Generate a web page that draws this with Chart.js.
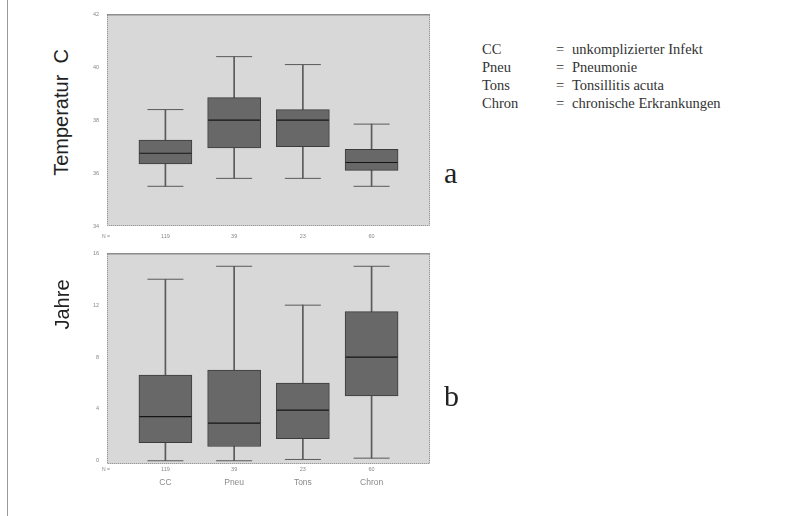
<!DOCTYPE html>
<html>
<head>
<meta charset="utf-8">
<script src="https://cdn.jsdelivr.net/npm/chart.js@4/dist/chart.umd.min.js"></script>
<style>
  body { margin: 0; width: 794px; height: 516px; background: #fff; position: relative; overflow: hidden; font-family: "Liberation Sans", Arial, sans-serif; }
  .frame { position: absolute; left: 7px; top: 0; width: 1px; height: 516px; background: #9a9a9a; }
  canvas { position: absolute; }
  #tempChart { left: 75px; top: 3px; }
  #ageChart { left: 75px; top: 242px; }
  .ytitle { position: absolute; font-size: 20px; color: #222; transform: rotate(-90deg); transform-origin: center; white-space: nowrap; }
  .letter { position: absolute; font-family: "Liberation Serif", "Times New Roman", serif; font-size: 30px; color: #222; }
  .nlab { position: absolute; font-size: 5px; color: #888; }
  .legend { position: absolute; left: 482px; top: 40px; font-family: "Liberation Serif", "Times New Roman", serif; font-size: 14.5px; color: #333; line-height: 18px; }
  .legend div { position: relative; height: 18px; white-space: nowrap; }
  .legend span { position: absolute; top: 0; white-space: nowrap; }
</style>
</head>
<body>
<div class="frame"></div>
<canvas id="tempChart" width="360" height="245"></canvas>
<canvas id="ageChart" width="360" height="255"></canvas>

<div class="ytitle" style="left:-4px; top:101px; width:130px; text-align:center;">Temperatur&nbsp; C</div>
<div class="ytitle" style="left:27px; top:293px; width:70px; text-align:center;">Jahre</div>
<div class="letter" style="left:444px; top:156px;">a</div>
<div class="letter" style="left:444px; top:379px;">b</div>
<div class="nlab" style="left:102px; top:233px;">N =</div>
<div class="nlab" style="left:102px; top:466px;">N =</div>

<div class="legend" id="legend"></div>

<script>
// categories and group sizes
const categories = ["CC", "Pneu", "Tons", "Chron"];
const descriptions = ["unkomplizierter Infekt", "Pneumonie", "Tonsillitis acuta", "chronische Erkrankungen"];
const groupN = ["119", "39", "23", "60"];

// a: Temperatur C  (min, q1, median, q3, max)
const tempMin = [35.5, 35.8, 35.8, 35.5];
const tempQ1 = [36.35, 36.95, 37.0, 36.1];
const tempMedian = [36.75, 38.0, 38.0, 36.4];
const tempQ3 = [37.25, 38.85, 38.4, 36.9];
const tempMax = [38.4, 40.4, 40.1, 37.85];
const tempTicks = [34, 36, 38, 40, 42];

// b: Jahre
const ageMin = [0, 0, 0.1, 0.2];
const ageQ1 = [1.4, 1.1, 1.7, 5.0];
const ageMedian = [3.4, 2.9, 3.9, 8.0];
const ageQ3 = [6.6, 7.0, 6.0, 11.5];
const ageMax = [14, 15, 12, 15];
const ageTicks = [0, 4, 8, 12, 16];

// legend text
const legend = document.getElementById("legend");
categories.forEach((c, i) => {
    const row = document.createElement("div");
    row.innerHTML = '<span style="left:0">' + c + '</span><span style="left:74px">=</span><span style="left:90px">' + descriptions[i] + '</span>';
    legend.appendChild(row);
});

// plot background and border
const plotBg = {
    id: "plotBg",
    beforeDraw(chart) {
        const a = chart.chartArea, ctx = chart.ctx;
        ctx.save();
        ctx.fillStyle = "#d8d8d8";
        ctx.fillRect(a.left, a.top, a.right - a.left, a.bottom - a.top);
        ctx.strokeStyle = "#8a8a8a";
        ctx.lineWidth = 1;
        ctx.setLineDash([1, 1]);
        ctx.strokeRect(a.left + 0.5, a.top + 0.5, a.right - a.left - 1, a.bottom - a.top - 1);
        ctx.setLineDash([]);
        ctx.strokeStyle = "#777";
        ctx.beginPath();
        ctx.moveTo(a.left, a.top + 0.5);
        ctx.lineTo(a.right, a.top + 0.5);
        ctx.stroke();
        ctx.restore();
    }
};

function fixedTicks(values) {
    return function (scale) { scale.ticks = values.map(v => ({ value: v })); };
}

function boxChart(id, mins, q1, med, q3, maxs, yMin, yMax, yTicks, withNames) {
    const pos = categories.map((c, i) => i + 1);
    const scales = {
        x: {
            type: "linear", min: 0.15, max: 4.85, offset: false,
            grid: { display: false, drawTicks: false }, border: { display: false },
            afterBuildTicks: fixedTicks(pos),
            afterFit: s => { s.height = withNames ? 11 : 16; },
            ticks: { font: { size: 5.5, family: "Liberation Sans" }, color: "#888", padding: withNames ? 2 : 7,
                     maxRotation: 0, autoSkip: false, callback: v => groupN[v - 1] }
        },
        y: {
            min: yMin, max: yMax,
            grid: { display: false, drawTicks: false }, border: { display: false },
            afterBuildTicks: fixedTicks(yTicks),
            afterFit: s => { s.width = 32; },
            ticks: { font: { size: 5.5, family: "Liberation Sans" }, color: "#888", padding: 8 }
        }
    };
    if (withNames) {
        scales.x2 = {
            type: "linear", position: "bottom", min: 0.15, max: 4.85, offset: false,
            grid: { display: false, drawTicks: false }, border: { display: false },
            afterBuildTicks: fixedTicks(pos),
            afterFit: s => { s.height = 16; },
            ticks: { font: { size: 8.5, family: "Liberation Sans" }, color: "#8a8a8a", padding: 3,
                     maxRotation: 0, autoSkip: false, callback: v => categories[v - 1] }
        };
    }
    return new Chart(document.getElementById(id), {
        type: "bar",
        data: {
            datasets: [
                {   // whisker line
                    data: pos.map((x, i) => ({ x: x, y: [mins[i], maxs[i]] })),
                    backgroundColor: "#5a5a5a", barThickness: 1, grouped: false, order: 3
                },
                {   // box
                    data: pos.map((x, i) => ({ x: x, y: [q1[i], q3[i]] })),
                    backgroundColor: "#686868", borderColor: "#3c3c3c", borderWidth: 1,
                    borderSkipped: false, barThickness: 53, grouped: false, order: 2
                },
                {   // median
                    type: "scatter",
                    data: pos.map((x, i) => ({ x: x, y: med[i] })),
                    pointStyle: "line", radius: 26, borderColor: "#151515", borderWidth: 1.2, order: 1
                },
                {   // caps
                    type: "scatter",
                    data: pos.map((x, i) => ({ x: x, y: maxs[i] })).concat(pos.map((x, i) => ({ x: x, y: mins[i] }))),
                    pointStyle: "line", radius: 18, borderColor: "#5a5a5a", borderWidth: 1, order: 1
                }
            ]
        },
        options: {
            responsive: false, animation: false,
            layout: { autoPadding: false, padding: { top: 7, right: 5, bottom: 6, left: 0 } },
            plugins: { legend: { display: false }, tooltip: { enabled: false } },
            scales: scales
        },
        plugins: [plotBg]
    });
}

boxChart("tempChart", tempMin, tempQ1, tempMedian, tempQ3, tempMax, 34, 42, tempTicks, false);
boxChart("ageChart", ageMin, ageQ1, ageMedian, ageQ3, ageMax, -0.25, 16, ageTicks, true);
</script>
</body>
</html>
